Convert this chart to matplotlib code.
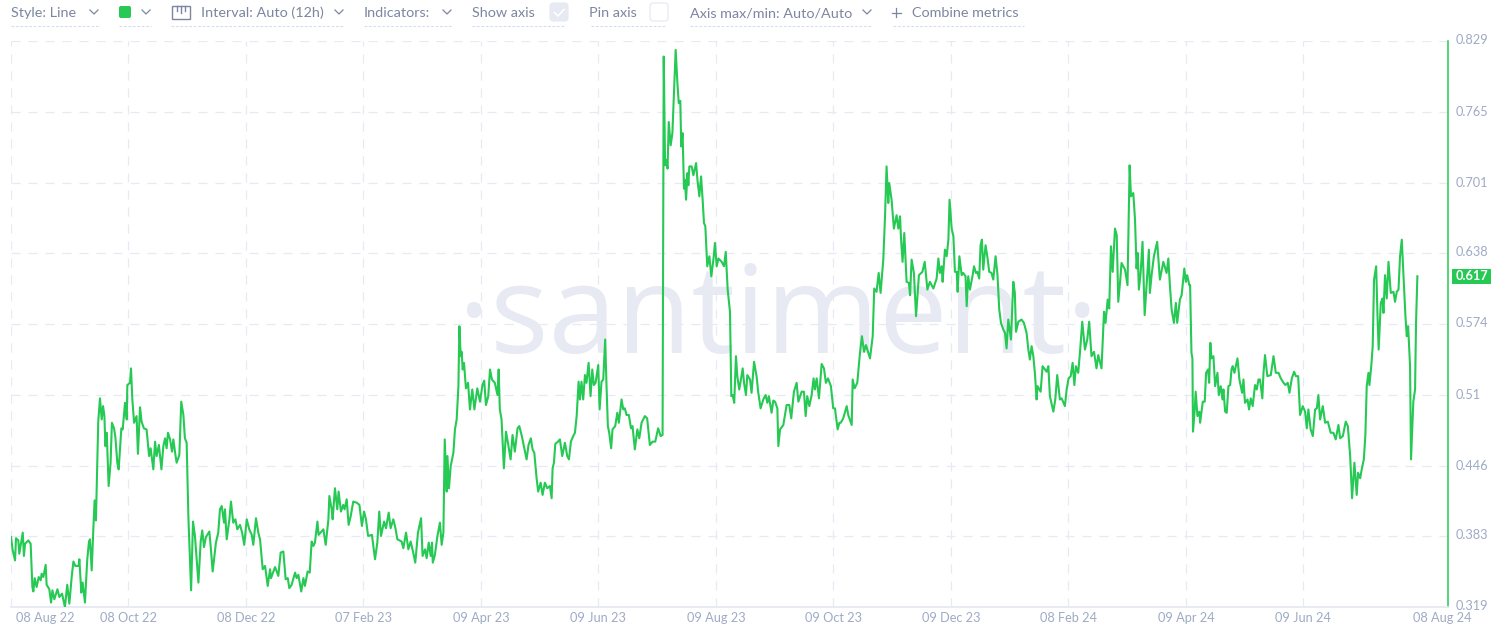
import pandas as pd
import matplotlib
matplotlib.use("Agg")
import matplotlib.pyplot as plt
from matplotlib.patches import FancyBboxPatch, Rectangle

plt.rcParams["font.family"] = ["Lato", "Open Sans", "DejaVu Sans"]

start_date = "2022-08-08"

# days since start_date / metric value
days = [
    0, 0.9, 2.1, 2.6, 3.8, 4.3, 5.5, 6.1, 6.7, 7.3, 9, 10.2, 11.1, 11.6, 12.3, 13.3, 14.4, 15.4, 15.9, 16.8,
    18, 18.5, 19.9, 20.8, 21.5, 22.5, 24.1, 25.1, 26.5, 28, 29.2, 30.3, 31.5, 32.4, 33.4, 35.1, 35.5, 36.5, 37.2, 38.4,
    39.6, 40.5, 41, 41.9, 42.7, 43.4, 44.1, 45.3, 46.2, 47.1, 47.8, 48.5, 49, 49.7, 50.7, 51.7, 52.4, 53.5, 54.2, 55.2,
    55.9, 57.3, 58, 59.2, 60.1, 60.4, 61.8, 62.3, 63, 63.9, 65.2, 65.9, 67, 67.8, 69, 70.4, 71.7, 72.5, 73.9, 74.8,
    75.6, 76.8, 78.1, 79.1, 80, 80.8, 81.5, 82.6, 83.6, 84.3, 85.2, 86, 87.4, 88.4, 89.5, 90.3, 91.2, 92.1, 93.5, 94.5,
    95.5, 97.3, 98.5, 99.3, 100.2, 101.2, 103, 103.7, 104.7, 106.4, 107.6, 108.5, 109.4, 110.6, 111.1, 112, 113.4, 114.2, 115.4, 116.5,
    117.5, 118.9, 120, 121.1, 122.4, 123.7,
    125, 125.8, 127.2, 128.4, 129.3, 130.7, 131.9, 133.3, 134.5, 135, 137.1, 138.8, 140, 141.4, 142.6, 143.7, 144.5, 145.7, 147.5, 148.3,
    149.2, 150.7, 151.8, 152.6, 154, 155.1, 156.1, 157, 157.8, 159.1, 159.7, 162.2, 163.4, 164.8, 165.3, 166.5, 167, 168.2, 169.4, 170.1,
    171.3, 172.5, 173.2, 174.3, 175.3, 176.4, 177.7, 179.5, 180.9, 182.2, 183.3, 184.3, 185.4, 187.4, 189, 190.2, 191.2, 192.1, 193.7, 194.7,
    196.1, 197.1, 198.5, 199.6, 200.6, 202.8, 203.7, 205.1, 206.3, 207.5, 208.7, 209.9, 211.3, 212.9, 213.7, 215, 215.8, 216.9, 217.9, 218.6,
    219, 220.1, 221.4, 222.7, 223.6, 224.5, 225.2, 226.2, 226.6, 227.4, 228.3, 229.7, 230.5, 231.4, 232.3, 232.8, 233.5, 234, 234.5, 235.2,
    236.2, 237.3, 238.3, 239.5, 240.6, 242.1, 243.5,
    244.8, 245.7, 246.6, 247.8, 248.7, 249.7, 251.2, 252.6, 253.2, 253.8, 254.7, 255.9, 257, 258.2, 259.4, 260.4, 261.6, 263, 263.9, 265.1,
    266.5, 267.7, 268.7, 269.9, 270.8, 271.7, 272.9, 273.7, 275, 276, 277.2, 278.4, 279.8, 280.7, 281.2, 281.9, 282.6, 284, 285, 286.2,
    287.6, 288.8, 289.7, 290.7, 291.9, 292.8, 293.7, 294.7, 295.4, 296.2, 297.1, 298, 298.8, 299.9, 300.9, 301.8, 302.6, 303.5, 304.9, 305.6,
    306.6, 307.5, 308.5, 309.2, 309.9, 310.6, 311.6, 312.3, 313.7, 314.8, 315.6, 317, 317.9, 318.7, 319.6, 320.8, 321.9, 322.7, 323.9, 325.2,
    326.2, 327.4, 329.1, 330.3, 331.7, 333.1, 334.5, 336, 337.3, 338.3,
    338.9, 339.6, 340.1, 340.9, 341.5, 342.5, 343.4, 344.4, 345.1, 346, 346.7, 347.5, 348, 348.7, 349.4, 349.9, 350.5, 351.2, 351.7, 352.2,
    353.4, 354.3, 355.7, 356.4, 357.4, 358.3, 359.1, 359.8, 360.5, 361.5, 362.6, 363.6, 364.7, 365.5, 366.4, 367.3, 369, 370.2, 371.1, 372.1,
    373.3, 374, 374.7, 375.5, 376.4, 377.1, 378.1, 378.8, 379.9, 380.6, 381.6, 382.3, 383.7, 384.5, 385.8, 387.1, 388, 389.2, 390.6, 391.8,
    392.7, 393.5, 394.9, 395.8, 396.7, 397.9, 398.4, 399.3, 401, 402.7, 404.1, 405.1, 406.5, 407.9, 408.8, 410.5, 411.7, 412.6, 413.4, 414.5,
    415.7, 416.7, 417.4, 418.3, 419.5, 420.9, 422.1, 423.1, 424.2, 425.7, 426.9, 427.8, 429.2, 430.1, 430.8, 432.1, 433.9, 434.7, 436.5, 437,
    438, 439.4, 440.8, 441.8, 442.9, 443.9, 446, 447.4, 448.2, 449.4, 450.5, 451.5, 452.9, 453.8, 454.6, 455.5, 456, 457.2, 458.4, 459.8,
    460.7, 461.6, 462.1, 462.9, 463.8, 465, 466.2, 466.8, 467.6, 468.8, 469.9, 471.4, 473.2, 474.4, 475.8, 477.1, 478.9, 480.6, 481.5, 482.3,
    483.2, 483.7, 484.9, 485.8, 486.7, 487.3, 488.4, 489.3, 490.1, 491, 491.5, 492.4,
    493.6, 494.4, 495.6, 496.2, 497, 497.9, 499.3, 500, 501, 501.7, 502.7, 503.4, 504.1, 504.8, 506, 506.9, 507.9, 509.1, 510, 511.2,
    512.2, 513.1, 514, 515.2, 516.1, 516.9, 517.8, 519.2, 520.4, 521.2, 521.8, 523, 524.7, 525.9, 527.3, 528.2, 529, 529.9, 530.8, 531.6,
    532.5, 533, 534.6, 535.6, 537.7, 538.6, 539.4, 541.2, 542.2, 543.2, 544.6, 545.5, 547.2, 548.1, 549.1, 550.2, 551.2, 552.1, 552.9, 554.1,
    555, 556.2, 557.6, 558.8, 559.8, 561, 562.3, 563.6, 564.5, 566.2, 567.5, 568.3, 569.4, 570.2, 571.1, 572, 573.2, 574.1, 574.9, 575.8,
    576.6, 578.4, 579.7, 580.8, 581.5, 582.7, 583.6, 584.4, 585, 585.6, 586.5, 587.5, 588.6, 590.8, 591.3, 592.2, 593.4, 595.1, 596.5, 598.3,
    600, 600.9, 601.7, 602.6, 603.8, 604.8, 605.5, 606.9, 607.8, 609.2, 610, 610.7, 611.8,
    612.2, 612.9, 613.4, 613.7, 614.6, 615.1, 616, 617, 617.4, 618.8, 619.8, 620.5, 621.5, 622.1, 622.7, 623.3, 624.3, 625.2, 626.4, 627.1,
    628.1, 629, 629.5, 630.4, 631.2, 632.1, 633, 633.7, 634.3, 635.2, 636.8, 637.8, 639.2, 639.9, 640.7, 642, 642.8, 643.7, 644.7, 645.9,
    646.8, 647.7, 648.5, 649.7, 650.3, 651.1, 652.3, 654.1, 655.5, 656.7, 658.1, 659.3, 660.7, 661.7, 662.9, 663.8, 665, 666.2, 667.1, 668.3,
    669.3, 670.7, 671.9, 672.8, 673.6, 674.8, 675.9, 677.1, 678, 678.8, 679.7, 681.1, 682.3, 683.7, 685.2, 686.6, 687.8, 689.2, 690.1, 691.5,
    693, 694.1, 695.3, 696.3, 697.5, 698.7, 699.4, 700.5, 701.3, 702.4, 703.2, 703.9, 704.8, 705.3, 706.3, 707, 707.7, 708.8, 709.5, 710.1,
    711.2, 712.1, 712.6, 713.4, 714.3, 715.2, 716.4, 717.8, 718.6, 719.5, 720.4, 721.2, 722.1, 723, 724, 724.7, 725.4, 726.4, 726.9, 728.1,
    729, 729.5, 730.2,
]
values = [
    .382, .370, .361, .381, .379, .367, .380, .386, .365, .376, .379, .376, .337, .333, .345, .337, .346, .343, .349, .346,
    .357, .339, .335, .323, .334, .326, .335, .328, .331, .319, .339, .322, .346, .360, .356, .356, .362, .332, .341, .323,
    .362, .378, .380, .352, .387, .415, .397, .486, .507, .488, .500, .491, .464, .476, .428, .449, .485, .480, .472, .449,
    .443, .480, .479, .503, .488, .519, .521, .534, .506, .485, .491, .457, .499, .486, .480, .479, .455, .462, .443, .468,
    .455, .465, .443, .464, .471, .462, .476, .470, .459, .470, .458, .449, .456, .504, .492, .471, .467, .400, .334, .396,
    .383, .341, .378, .388, .373, .382, .387, .373, .351, .377, .386, .407, .410, .395, .407, .380, .398, .414, .395, .398,
    .389, .393, .386, .375, .398, .389,
    .384, .375, .399, .386, .380, .353, .356, .338, .353, .345, .355, .347, .368, .369, .344, .345, .336, .339, .350, .345,
    .348, .333, .345, .338, .351, .350, .378, .374, .377, .396, .384, .389, .375, .398, .419, .407, .398, .426, .407, .423,
    .405, .411, .407, .416, .393, .401, .414, .413, .411, .392, .405, .398, .383, .384, .362, .377, .405, .383, .396, .390,
    .404, .390, .398, .390, .380, .378, .372, .386, .371, .378, .369, .359, .386, .399, .365, .371, .363, .377, .365, .377,
    .359, .366, .383, .395, .375, .386, .470, .423, .455, .426, .446, .458, .479, .488, .518, .572, .545, .549, .533, .539,
    .516, .521, .497, .515, .497, .516, .504,
    .519, .523, .501, .509, .533, .524, .521, .510, .533, .497, .488, .444, .477, .465, .452, .474, .459, .480, .482, .474,
    .462, .452, .465, .471, .461, .458, .435, .423, .431, .420, .431, .426, .428, .417, .444, .449, .466, .468, .470, .455,
    .467, .455, .452, .468, .473, .476, .491, .522, .506, .522, .506, .528, .521, .539, .509, .533, .519, .521, .537, .497,
    .522, .524, .560, .518, .482, .476, .462, .479, .482, .494, .485, .506, .497, .498, .492, .492, .480, .482, .461, .479,
    .471, .485, .491, .489, .465, .468, .468, .480, .473, .474,
    .815, .717, .722, .714, .756, .735, .746, .791, .821, .791, .773, .775, .734, .746, .696, .704, .686, .710, .699, .716,
    .716, .708, .719, .704, .689, .707, .686, .665, .662, .626, .635, .617, .632, .647, .626, .633, .630, .626, .639, .605,
    .585, .509, .510, .503, .545, .527, .515, .522, .534, .521, .510, .528, .524, .512, .540, .527, .512, .498, .506, .510,
    .503, .509, .494, .505, .504, .498, .464, .479, .483, .501, .501, .489, .513, .521, .504, .513, .513, .491, .509, .500,
    .510, .525, .515, .525, .507, .538, .534, .521, .525, .518, .498, .498, .479, .485, .485, .489, .500, .492, .483, .524,
    .516, .521, .548, .563, .549, .555, .543, .563, .606, .603, .620, .602, .632, .671, .716, .683, .701, .686, .660, .672,
    .660, .671, .651, .630, .656, .612, .611, .600, .632, .620, .581, .618, .621, .630, .605, .612, .606, .615, .633, .620,
    .626, .612, .641, .635, .650, .686, .660, .653, .621, .621, .603, .635,
    .618, .620, .617, .590, .617, .605, .618, .626, .620, .621, .615, .645, .650, .623, .645, .635, .621, .620, .614, .635,
    .618, .587, .575, .569, .566, .552, .578, .560, .612, .602, .567, .576, .578, .575, .566, .551, .542, .554, .545, .530,
    .506, .518, .513, .536, .531, .536, .509, .495, .506, .528, .506, .507, .500, .515, .525, .527, .539, .519, .536, .530,
    .548, .576, .551, .560, .576, .545, .549, .534, .546, .534, .585, .575, .596, .588, .644, .621, .660, .654, .594, .611,
    .629, .623, .609, .717, .689, .692, .668, .624, .638, .605, .620, .648, .582, .641, .602, .618, .635, .648, .614, .630,
    .620, .633, .609, .587, .575, .593, .575, .596, .600, .624, .612, .618, .609,
    .609, .548, .543, .477, .497, .513, .491, .495, .485, .504, .504, .530, .533, .521, .557, .543, .545, .518, .530, .510,
    .518, .506, .515, .495, .494, .518, .519, .533, .536, .530, .543, .524, .512, .524, .503, .506, .497, .507, .500, .519,
    .515, .524, .524, .507, .530, .546, .527, .528, .545, .530, .530, .525, .521, .519, .521, .512, .525, .531, .527, .527,
    .492, .500, .495, .480, .497, .479, .473, .497, .498, .510, .488, .500, .485, .486, .476, .476, .470, .483, .471, .473,
    .486, .482, .455, .417, .449, .420, .440, .435, .443, .452, .474, .518, .530, .519, .537, .554, .614, .626, .581, .551,
    .593, .597, .584, .618, .597, .630, .602, .603, .594, .603, .605, .635, .650, .617, .581, .563, .572, .536, .452, .504,
    .515, .575, .617,
]

tick_dates = ["2022-08-08", "2022-10-08", "2022-12-08", "2023-02-07", "2023-04-09", "2023-06-09", "2023-08-09",
              "2023-10-09", "2023-12-09", "2024-02-08", "2024-04-09", "2024-06-09", "2024-08-08"]
tick_labels = ["08 Aug 22", "08 Oct 22", "08 Dec 22", "07 Feb 23", "09 Apr 23", "09 Jun 23", "09 Aug 23",
               "09 Oct 23", "09 Dec 23", "08 Feb 24", "09 Apr 24", "09 Jun 24", "08 Aug 24"]
y_ticks = [0.319, 0.383, 0.446, 0.51, 0.574, 0.638, 0.701, 0.765, 0.829]
y_labels = ["0.319", "0.383", "0.446", "0.51", "0.574", "0.638", "0.701", "0.765", "0.829"]
last_value = 0.617
toolbar_items = ["Style: Line", "Interval: Auto (12h)", "Indicators:", "Show axis", "Pin axis",
                 "Axis max/min: Auto/Auto", "Combine metrics"]

W, H = 1506, 635
GREEN = "#26c953"
GRID = "#e7e9f3"
MUTED = "#9faac4"
TEXT = "#7c86a0"
DASH = (0, (7.2, 6.4))

fig = plt.figure(figsize=(W / 100, H / 100), dpi=100, facecolor="white")
start = pd.Timestamp(start_date)
x = start + pd.to_timedelta(days, unit="D")
ticks = pd.to_datetime(tick_dates)

# chart area, left/right/top/bottom in pixels
L, R, T, B = 11, 1448, 41, 607
ax = fig.add_axes([L / W, 1 - B / H, (R - L) / W, (B - T) / H])
ax.set_xlim(start, start + pd.Timedelta(days=746.1))
ax.set_ylim(y_ticks[0], y_ticks[-1])
ax.patch.set_alpha(0)

for s in ["top", "left"]:
    ax.spines[s].set_visible(False)
ax.spines["bottom"].set_color(GRID)
ax.spines["bottom"].set_linewidth(1.3)
ax.spines["right"].set_color(GREEN)
ax.spines["right"].set_linewidth(1.1)
ax.set_xticks([])
ax.set_yticks([])

for v, lab in zip(y_ticks, y_labels):
    if v > y_ticks[0]:
        ax.axhline(v, color=GRID, lw=0.9, ls=DASH, zorder=1)
    ax.annotate(lab, xy=(1, v), xycoords=("axes fraction", "data"),
                xytext=(8 * 0.72, -3.5 * 0.72), textcoords="offset points",
                ha="left", va="baseline", fontsize=9.2, color=MUTED, annotation_clip=False)
for t in ticks[:-1]:
    ax.axvline(t, color=GRID, lw=0.9, ls=DASH, zorder=1)

ax.plot(x, values, color=GREEN, lw=1.5, zorder=3)

# date labels, first and last are pushed inside like the app does
offsets = {0: 34, len(ticks) - 1: 23}
for i, (t, lab) in enumerate(zip(ticks, tick_labels)):
    ax.annotate(lab, xy=(t, 0), xycoords=("data", "axes fraction"),
                xytext=(offsets.get(i, 0) * 0.72, -11 * 0.72), textcoords="offset points",
                ha="center", va="center", fontsize=9.2, color=MUTED, annotation_clip=False)

# overlay in pixel coordinates for the app chrome
ui = fig.add_axes([0, 0, 1, 1], zorder=-1)
ui.set_xlim(0, W)
ui.set_ylim(H, 0)
ui.axis("off")
ui.text(778, 353, "·santiment·", fontsize=88, color=GRID, ha="center", va="baseline",
        family=["Liberation Sans Narrow", "Open Sans"], zorder=0)

top = fig.add_axes([0, 0, 1, 1], zorder=5)
top.set_xlim(0, W)
top.set_ylim(H, 0)
top.axis("off")
top.patch.set_alpha(0)

# value tag
value_y = B - (last_value - y_ticks[0]) / (y_ticks[-1] - y_ticks[0]) * (B - T)
top.add_patch(Rectangle((1452, value_y - 7.5), 39, 15, color=GREEN, lw=0))
top.text(1471.5, value_y, "0.617", color="white", fontsize=9.2, fontweight="bold", ha="center", va="center")

def chevron(cx, cy=12):
    top.plot([cx - 4, cx, cx + 4], [cy - 2, cy + 2, cy - 2], color=TEXT, lw=0.9)

def underline(x0, x1, y=26):
    top.plot([x0, x1], [y, y], color="#d9dcef", lw=0.8, ls=(0, (2.5, 1.5)))

# left x of each toolbar text
text_x = [11, 201, 364, 472, 589, 690, 912]
for label, tx in zip(toolbar_items, text_x):
    top.text(tx, 13, label, fontsize=10.4, color=TEXT, ha="left", va="center")

chevron(94)
underline(11, 99)
top.add_patch(FancyBboxPatch((119, 6), 12, 12, boxstyle="round,pad=0,rounding_size=2", color=GREEN, lw=0))
chevron(146)
underline(119, 151)
top.add_patch(Rectangle((172, 6), 18, 13, fill=False, ec=TEXT, lw=1))
top.plot([177, 177], [6, 11], color=TEXT, lw=1)
top.plot([181, 181], [6, 13], color=TEXT, lw=1)
top.plot([185, 185], [6, 11], color=TEXT, lw=1)
chevron(339)
underline(171, 344)
chevron(447)
underline(364, 452)
top.add_patch(FancyBboxPatch((550, 3), 18, 18, boxstyle="round,pad=0,rounding_size=3", fc="#e7e9f3", ec="#e7e9f3", lw=0.8))
top.plot([554.5, 558, 564], [12.5, 16, 9.5], color="white", lw=1.2)
underline(472, 565)
top.add_patch(FancyBboxPatch((650, 3), 18, 18, boxstyle="round,pad=0,rounding_size=3", fc="white", ec="#e7e9f3", lw=0.9))
underline(591, 665)
chevron(867)
underline(690, 872)
top.plot([892, 901], [12.5, 12.5], color=TEXT, lw=0.9)
top.plot([896.5, 896.5], [8, 17], color=TEXT, lw=0.9)
underline(893, 1024)

fig.savefig("out.png", dpi=100)
